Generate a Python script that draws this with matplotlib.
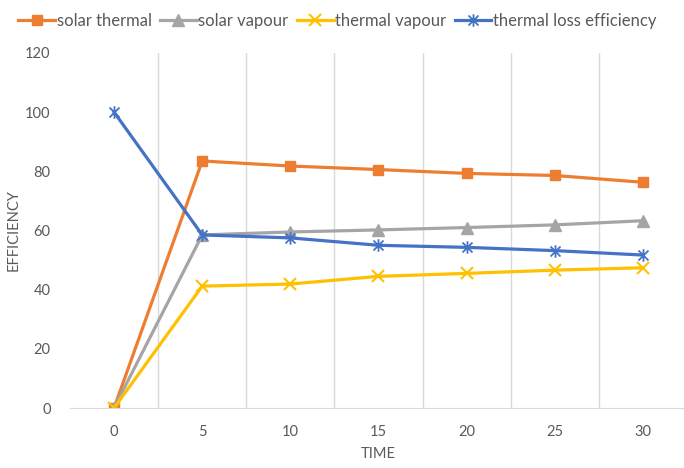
import numpy as np
import matplotlib.pyplot as plt
from matplotlib.path import Path

plt.rcParams['font.family'] = ['Lato', 'DejaVu Sans']

time_labels = ['0', '5', '10', '15', '20', '25', '30']
solar_thermal = [0, 83.5, 81.8, 80.6, 79.3, 78.6, 76.3]
solar_vapour = [0, 58.5, 59.5, 60.2, 61.0, 61.9, 63.3]
thermal_vapour = [0, 41.2, 41.9, 44.5, 45.5, 46.6, 47.4]
thermal_loss = [100, 58.5, 57.5, 55.0, 54.3, 53.2, 51.7]

# asterisk marker: an x with a vertical bar through it
star_path = Path(
    [(-1, -1), (1, 1), (-1, 1), (1, -1), (0, -1.25), (0, 1.25)],
    [Path.MOVETO, Path.LINETO, Path.MOVETO, Path.LINETO, Path.MOVETO, Path.LINETO],
)

fig = plt.figure(figsize=(6.84, 4.68), dpi=100)
ax = fig.add_axes([70 / 684, 1 - 408 / 468, 617 / 684, 355 / 468])

x = np.arange(len(time_labels))
ax.plot(x, solar_thermal, color='#ED7D31', lw=2.3, marker='s', ms=7, label='solar thermal')
ax.plot(x, solar_vapour, color='#A5A5A5', lw=2.3, marker='^', ms=8, label='solar vapour')
ax.plot(x, thermal_vapour, color='#FFC000', lw=2.3, marker='x', ms=8, mew=1.5, label='thermal vapour')
ax.plot(x, thermal_loss, color='#4472C4', lw=2.3, marker=star_path, ms=9, mew=1.3,
        mfc='none', label='thermal loss efficiency')

ax.set_xlim(-0.5, 6.5)
ax.set_ylim(0, 120)
ax.set_yticks(np.arange(0, 121, 20))
ax.set_xticks(x)
ax.set_xticklabels(time_labels)

# vertical separators between categories
for b in np.arange(0.5, 6.0, 1):
    ax.axvline(b, color='#D9D9D9', lw=1, zorder=0)

for s in ['top', 'right', 'left']:
    ax.spines[s].set_visible(False)
ax.spines['bottom'].set_color('#D9D9D9')
ax.tick_params(axis='both', length=0, colors='#595959', labelsize=10.5)
ax.tick_params(axis='x', pad=12)
ax.tick_params(axis='y', pad=14)

ax.set_xlabel('TIME', color='#595959', fontsize=10.5, labelpad=6)
ax.set_ylabel('EFFICIENCY', color='#595959', fontsize=10.5)
ax.yaxis.set_label_coords(-0.08, 0.5)

fig.legend(loc='upper left', bbox_to_anchor=(0.005, 1.005), ncol=4, frameon=False,
           fontsize=12, handlelength=2.2, handletextpad=0.1, columnspacing=0.5,
           labelcolor='#595959')

fig.savefig('out.png', dpi=100)
